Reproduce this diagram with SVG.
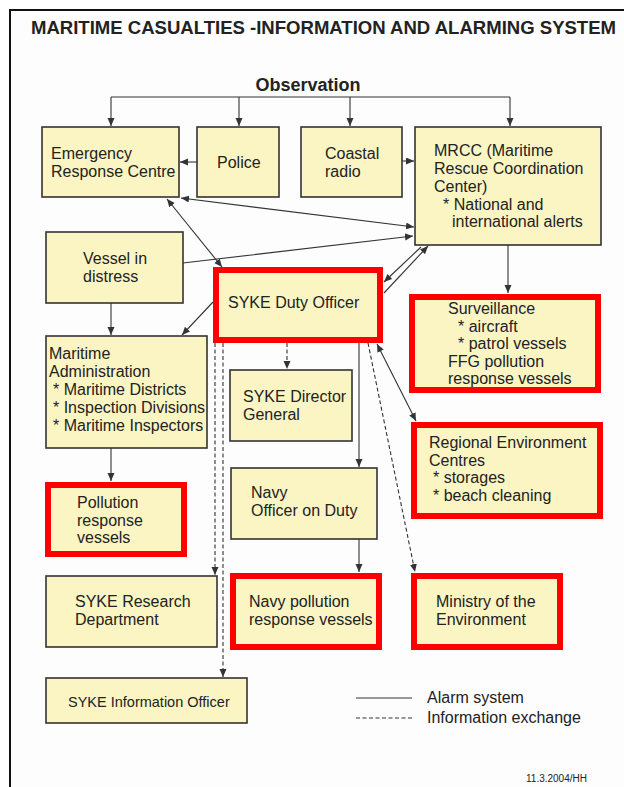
<svg xmlns="http://www.w3.org/2000/svg" width="624" height="787" viewBox="0 0 624 787">
<style>
text{font-family:"Liberation Sans",Arial,Helvetica,sans-serif;fill:#222;}
.t{font-size:16px;}
.box{fill:#faf5c3;stroke:#333;stroke-width:1.6;}
.red{fill:#faf5c3;stroke:#ff0000;stroke-width:6;}
.c{fill:none;stroke:#333;stroke-width:1.1;}
.d{fill:none;stroke:#333;stroke-width:1.1;stroke-dasharray:4 2.5;}
.a{marker-end:url(#ah);}
.b{marker-start:url(#ah);marker-end:url(#ah);}
</style>
<defs>
<marker id="ah" markerUnits="userSpaceOnUse" markerWidth="9" markerHeight="8" refX="8" refY="3.5" orient="auto-start-reverse">
<path d="M0,0 L8,3.5 L0,7 z" fill="#333"/>
</marker>
</defs>
<rect x="0" y="0" width="624" height="787" fill="#ffffff"/>
<rect x="10" y="10" width="700" height="900" fill="#fdfdfd" stroke="#111" stroke-width="2"/>
<text x="31" y="34" font-size="18" font-weight="bold" textLength="585" lengthAdjust="spacingAndGlyphs">MARITIME CASUALTIES -INFORMATION AND ALARMING SYSTEM</text>
<text x="308" y="91" font-size="18" font-weight="bold" text-anchor="middle">Observation</text>

<g id="connectors">
<path class="c" d="M111,97 H510"/>
<path class="c a" d="M111,97 V126"/>
<path class="c a" d="M239,97 V126"/>
<path class="c a" d="M350,97 V126"/>
<path class="c a" d="M510,97 V126"/>
<path class="c a" d="M197,162 H180"/>
<path class="c a" d="M402,161 H414"/>
<path class="c b" d="M181,198 L414,227"/>
<path class="c a" d="M183,263 L413,236"/>
<path class="c b" d="M167,199 L222,267"/>
<path class="c a" d="M421,247 L384,282"/>
<path class="c a" d="M384,293 L428,246"/>
<path class="c a" d="M213,302 L182,335"/>
<path class="c a" d="M111,303 V335"/>
<path class="c a" d="M111,448 V481"/>
<path class="c a" d="M508,245 V293"/>
<path class="d a" d="M287,343 V369"/>
<path class="c a" d="M359,343 V467"/>
<path class="c a" d="M359,539 V572"/>
<path class="c b" d="M377,344 L416,421"/>
<path class="d a" d="M368,343 L415,572"/>
<path class="d a" d="M215,343 V575"/>
<path class="d a" d="M223,343 V677"/>
</g>

<g id="emergency">
<rect class="box" x="42" y="127" width="137" height="70"/>
<text class="t" x="51" y="159">Emergency<tspan x="51" dy="18">Response Centre</tspan></text>
</g>
<g id="police">
<rect class="box" x="197" y="127" width="82" height="70"/>
<text class="t" x="217" y="168">Police</text>
</g>
<g id="coastal">
<rect class="box" x="301" y="127" width="101" height="70"/>
<text class="t" x="325" y="159">Coastal<tspan x="325" dy="18">radio</tspan></text>
</g>
<g id="mrcc">
<rect class="box" x="415" y="127" width="186" height="118"/>
<text class="t" x="434" y="156">MRCC (Maritime<tspan x="434" dy="18">Rescue Coordination</tspan><tspan x="434" dy="18">Center)</tspan><tspan x="443" dy="17.5">* National and</tspan><tspan x="452" dy="17.5">international alerts</tspan></text>
</g>
<g id="vessel">
<rect class="box" x="46" y="232" width="137" height="71"/>
<text class="t" x="83" y="264">Vessel in<tspan x="83" dy="18">distress</tspan></text>
</g>
<g id="syke-duty">
<rect class="red" x="216" y="270" width="164" height="70"/>
<text class="t" x="228" y="308">SYKE Duty Officer</text>
</g>
<g id="surveillance">
<rect class="red" x="412" y="297" width="186" height="93"/>
<text class="t" x="448" y="314">Surveillance<tspan x="458" dy="17.5">* aircraft</tspan><tspan x="458" dy="17.5">* patrol vessels</tspan><tspan x="448" dy="17.5">FFG pollution</tspan><tspan x="448" dy="17.5">response vessels</tspan></text>
</g>
<g id="maritime-admin">
<rect class="box" x="46" y="336" width="161" height="112"/>
<text class="t" x="49" y="359">Maritime<tspan x="49" dy="18">Administration</tspan><tspan x="53" dy="18">* Maritime Districts</tspan><tspan x="53" dy="18">* Inspection Divisions</tspan><tspan x="53" dy="18">* Maritime Inspectors</tspan></text>
</g>
<g id="syke-director">
<rect class="box" x="230" y="370" width="122" height="71"/>
<text class="t" x="243" y="402">SYKE Director<tspan x="243" dy="18">General</tspan></text>
</g>
<g id="regional">
<rect class="red" x="414" y="425" width="186" height="91"/>
<text class="t" x="429" y="448">Regional Environment<tspan x="429" dy="17.5">Centres</tspan><tspan x="433" dy="17.5">* storages</tspan><tspan x="433" dy="17.5">* beach cleaning</tspan></text>
</g>
<g id="navy-officer">
<rect class="box" x="231" y="468" width="146" height="71"/>
<text class="t" x="251" y="498">Navy<tspan x="251" dy="18">Officer on Duty</tspan></text>
</g>
<g id="pollution-vessels">
<rect class="red" x="48" y="485" width="136" height="69"/>
<text class="t" x="77" y="508">Pollution<tspan x="77" dy="17.5">response</tspan><tspan x="77" dy="17.5">vessels</tspan></text>
</g>
<g id="syke-research">
<rect class="box" x="46" y="576" width="171" height="71"/>
<text class="t" x="75" y="607">SYKE Research<tspan x="75" dy="18">Department</tspan></text>
</g>
<g id="navy-pollution">
<rect class="red" x="233" y="576" width="146" height="71"/>
<text class="t" x="249" y="607">Navy pollution<tspan x="249" dy="18">response vessels</tspan></text>
</g>
<g id="ministry">
<rect class="red" x="414" y="576" width="146" height="71"/>
<text class="t" x="436" y="607">Ministry of the<tspan x="436" dy="18">Environment</tspan></text>
</g>
<g id="syke-info">
<rect class="box" x="46" y="678" width="201" height="45"/>
<text x="68" y="707" font-size="14.5">SYKE Information Officer</text>
</g>
<g id="legend">
<path class="c" d="M356,698 H412"/>
<path class="d" d="M356,718 H412"/>
<text class="t" x="427" y="703">Alarm system</text>
<text class="t" x="427" y="723">Information exchange</text>
</g>
<text x="526" y="782" font-size="10">11.3.2004/HH</text>
</svg>
